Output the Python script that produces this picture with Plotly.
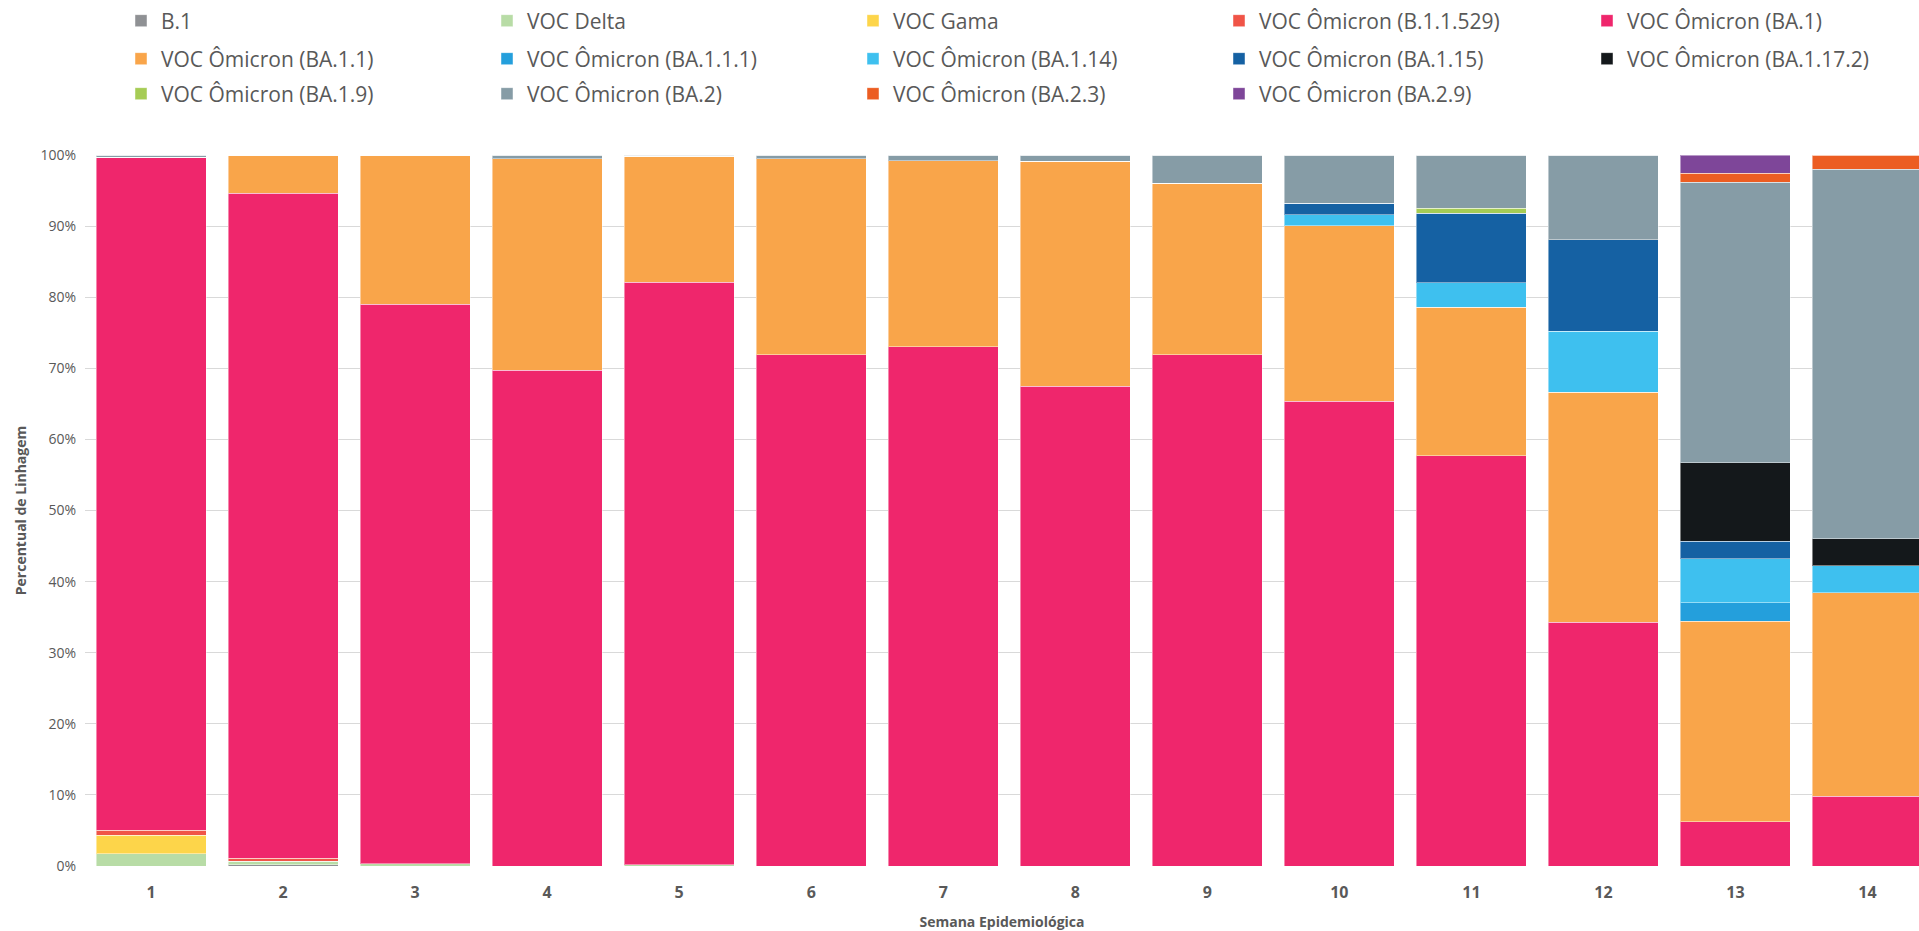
import plotly.graph_objects as go

weeks = [str(i) for i in range(1, 15)]

lineages = ["B.1", "VOC Delta", "VOC Gama", "VOC Ômicron (B.1.1.529)", "VOC Ômicron (BA.1)",
            "VOC Ômicron (BA.1.1)", "VOC Ômicron (BA.1.1.1)", "VOC Ômicron (BA.1.14)",
            "VOC Ômicron (BA.1.15)", "VOC Ômicron (BA.1.17.2)", "VOC Ômicron (BA.1.9)",
            "VOC Ômicron (BA.2)", "VOC Ômicron (BA.2.3)", "VOC Ômicron (BA.2.9)"]

b1 =        [0,     0.15, 0,     0,    0,     0,    0,    0,    0,    0,    0,    0,    0,    0]
delta =     [1.7,   0.55, 0.33,  0,    0.15,  0,    0,    0,    0,    0,    0,    0,    0,    0]
gama =      [2.65,  0,    0,     0,    0,     0,    0,    0,    0,    0,    0,    0,    0,    0]
b11529 =    [0.7,   0.4,  0,     0,    0,     0,    0,    0,    0,    0,    0,    0,    0,    0]
ba1 =       [94.65, 93.5, 78.7,  69.7, 81.95, 71.9, 73.0, 67.5, 71.9, 65.4, 57.7, 34.3, 6.2,  9.8]
ba11 =      [0,     5.4,  20.97, 29.8, 17.7,  27.6, 26.2, 31.6, 24.1, 24.65, 20.9, 32.3, 28.2, 28.6]
ba111 =     [0,     0,    0,     0,    0,     0,    0,    0,    0,    0,    0,    0,    2.6,  0]
ba114 =     [0,     0,    0,     0,    0,     0,    0,    0,    0,    1.55, 3.4,  8.6,  6.2,  3.8]
ba115 =     [0,     0,    0,     0,    0,     0,    0,    0,    0,    1.6,  9.8,  12.9, 2.5,  0]
ba1172 =    [0,     0,    0,     0,    0,     0,    0,    0,    0,    0,    0,    0,    11.0, 3.8]
ba19 =      [0,     0,    0,     0,    0,     0,    0,    0,    0,    0,    0.7,  0,    0,    0]
ba2 =       [0.3,   0,    0,     0.5,  0.2,   0.5,  0.8,  0.9,  4.0,  6.8,  7.5,  11.9, 39.5, 52.0]
ba23 =      [0,     0,    0,     0,    0,     0,    0,    0,    0,    0,    0,    0,    1.2,  2.0]
ba29 =      [0,     0,    0,     0,    0,     0,    0,    0,    0,    0,    0,    0,    2.6,  0]

series = [b1, delta, gama, b11529, ba1, ba11, ba111, ba114, ba115, ba1172, ba19, ba2, ba23, ba29]

colors = ["#8f9194", "#b8dca6", "#fdd54a", "#f05447", "#ef266c", "#f9a54a", "#249fdc",
          "#3ec0ef", "#1561a3", "#14181b", "#a6cc55", "#869ca6", "#ec5d22", "#7e4699"]

FONT = "Open Sans"
GREY = "#595959"

W, H = 1919, 931


def legend_for(i):
    row, col = divmod(i, 5)
    if col == 4:
        return ["legend4", "legend5"][row]
    return ["legend", "legend2", "legend3"][row]


fig = go.Figure()
for i, (name, vals, col) in enumerate(zip(lineages, series, colors)):
    fig.add_trace(go.Bar(
        x=weeks, y=vals, name=name, legend=legend_for(i),
        marker=dict(color=col, line=dict(color="rgba(255,255,255,0.45)", width=1)),
    ))

COLW = 366.5
X0 = 121
rows_y = [21, 59, 94]


def leg(row, col):
    return dict(orientation="h", xref="container", yref="container",
                x=(X0 + col * COLW) / W, y=1 - rows_y[row] / H,
                xanchor="left", yanchor="middle", entrywidth=COLW - 45.5,
                entrywidthmode="pixels", font=dict(family=FONT, size=21, color=GREY),
                traceorder="normal", bgcolor="rgba(0,0,0,0)")


fig.update_layout(
    width=W, height=H,
    margin=dict(l=85, r=0, t=155, b=H - 866),
    barmode="stack", bargap=1 / 6,
    plot_bgcolor="white", paper_bgcolor="white",
    font=dict(family=FONT, color=GREY),
    legend=leg(0, 0), legend2=leg(1, 0), legend3=leg(2, 0),
    legend4=leg(0, 4), legend5=leg(1, 4),
    xaxis=dict(type="category", range=[-0.5, 13.39], showgrid=False, zeroline=False,
               showline=False, ticks="", ticklabelstandoff=15,
               tickfont=dict(family=FONT, size=16, color=GREY, weight="bold"),
               title=dict(text="Semana Epidemiológica", standoff=16,
                          font=dict(family=FONT, size=14, color=GREY, weight="bold"))),
    yaxis=dict(range=[0, 100], dtick=10, ticksuffix="%", showgrid=True, gridcolor="#d9d9d9",
               gridwidth=1, zeroline=False, showline=False, ticks="", ticklabelstandoff=8,
               tickfont=dict(family=FONT, size=14, color=GREY),
               title=dict(text="Percentual de Linhagem", standoff=10,
                          font=dict(family=FONT, size=14, color=GREY, weight="bold"))),
)

fig.write_html("out.html", config={"displayModeBar": False},
               post_script="document.body.style.margin='0';document.body.style.overflow='hidden';")
